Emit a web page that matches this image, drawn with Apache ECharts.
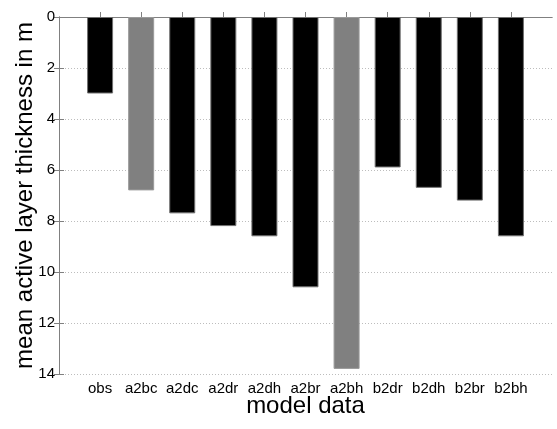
<!DOCTYPE html>
<html>
<head>
<meta charset="utf-8">
<script src="https://cdn.jsdelivr.net/npm/echarts@6/dist/echarts.min.js"></script>
<style>
html,body{margin:0;padding:0;background:#fff;}
#chart{width:557px;height:429px;}
</style>
</head>
<body>
<div id="chart"></div>
<script>
const categories = ['obs','a2bc','a2dc','a2dr','a2dh','a2br','a2bh','b2dr','b2dh','b2br','b2bh'];
const thickness = [3.0, 6.8, 7.7, 8.2, 8.6, 10.6, 13.8, 5.9, 6.7, 7.2, 8.6];
const grayCategories = ['a2bc','a2bh'];
const yTicks = [0, 2, 4, 6, 8, 10, 12, 14];

const FONT = 'Liberation Sans, Arial, sans-serif';
const frameColor = '#808080';

const barData = categories.map((c, i) => {
  const gray = grayCategories.includes(c);
  return {
    value: [i + 1, thickness[i]],
    itemStyle: {
      color: gray ? '#808080' : '#000000',
      borderColor: gray ? '#9a9a9a' : '#707070',
      borderWidth: 1
    }
  };
});

const chart = echarts.init(document.getElementById('chart'), null, {renderer: 'canvas'});
chart.setOption({
  backgroundColor: '#ffffff',
  animation: false,
  grid: {left: 59, right: 5, top: 17, bottom: 55, containLabel: false, outerBoundsMode: 'none'},
  xAxis: [{
    type: 'value', min: 0, max: categories.length + 1, interval: 1,
    position: 'bottom',
    name: 'model data', nameLocation: 'middle', nameGap: 20,
    nameMoveOverlap: false,
    nameTextStyle: {fontFamily: FONT, fontSize: 24, color: '#000', verticalAlign: 'top'},
    axisLine: {show: true, lineStyle: {color: frameColor, width: 1}},
    axisTick: {show: true, inside: true, length: 5, lineStyle: {color: frameColor},
      customValues: categories.map((c, i) => i + 1)},
    axisLabel: {show: true, fontFamily: FONT, fontSize: 15, color: '#000', margin: 7,
      customValues: categories.map((c, i) => i + 1),
      formatter: v => categories[Math.round(v) - 1] || ''},
    splitLine: {show: false}
  }, {
    type: 'value', min: 0, max: categories.length + 1, interval: 1,
    position: 'top',
    axisLine: {show: true, lineStyle: {color: frameColor, width: 1}},
    axisTick: {show: true, inside: true, length: 5, lineStyle: {color: frameColor},
      customValues: categories.map((c, i) => i + 1)},
    axisLabel: {show: false},
    splitLine: {show: false}
  }],
  yAxis: [{
    type: 'value', min: 0, max: 14, interval: 2, inverse: true,
    position: 'left',
    name: 'mean active layer thickness in m', nameLocation: 'middle', nameGap: 22,
    nameMoveOverlap: false,
    nameRotate: 90,
    nameTextStyle: {fontFamily: FONT, fontSize: 24, color: '#000'},
    axisLine: {show: true, lineStyle: {color: frameColor, width: 1}},
    axisTick: {show: true, inside: true, length: 5, lineStyle: {color: frameColor}},
    axisLabel: {show: true, fontFamily: FONT, fontSize: 15, color: '#000', margin: 4,
      customValues: yTicks},
    splitLine: {show: true, lineStyle: {color: '#bdbdbd', type: [1, 2], width: 1}}
  }, {
    type: 'value', min: 0, max: 14, interval: 2, inverse: true,
    position: 'right',
    axisLine: {show: true, lineStyle: {color: frameColor, width: 1}},
    axisTick: {show: true, inside: true, length: 5, lineStyle: {color: frameColor}},
    axisLabel: {show: false},
    splitLine: {show: false}
  }],
  series: [{
    type: 'bar',
    xAxisIndex: 0, yAxisIndex: 0,
    barWidth: 26,
    data: barData
  }]
});
</script>
</body>
</html>
